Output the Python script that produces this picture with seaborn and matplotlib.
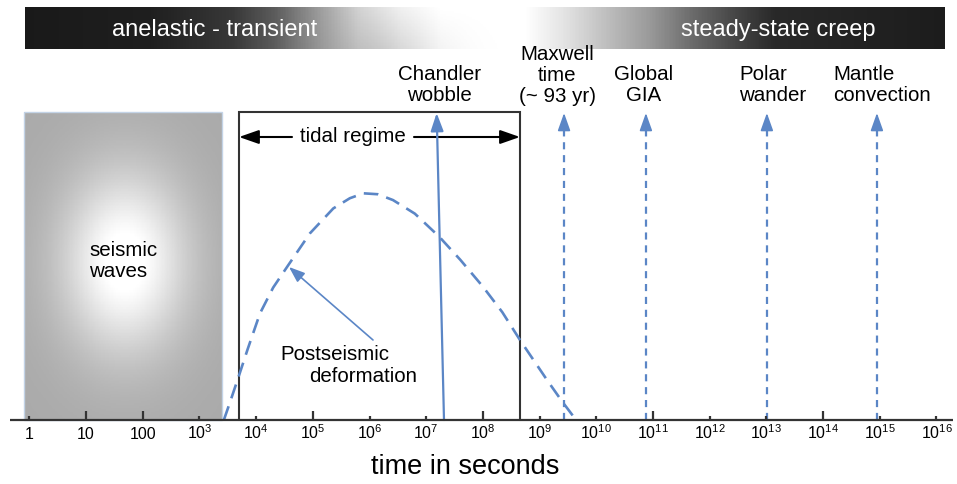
import numpy as np
import matplotlib
matplotlib.use("Agg")
import matplotlib.pyplot as plt
import seaborn as sns
import pandas as pd

# ---------------- data ----------------
tick_exponents = list(range(0, 17))
tick_labels = ["1", "10", "100"] + [r"$\mathregular{10^{%d}}$" % k for k in range(3, 17)]
tall_tick_exponents = [1, 2, 5, 8, 11, 14]

seismic_range_s = [0.82, 2.5e3]        # seconds
tidal_range_s = [5.0e3, 4.5e8]         # seconds

curve_t = [2.7e3, 3.5e3, 4.9e3, 7.1e3, 1.17e4, 2.0e4, 3.7e4, 8.9e4, 2.3e5, 4.5e5,
           7.8e5, 1.4e6, 2.6e6, 6.3e6, 1.7e7, 4.0e7, 1.0e8, 2.2e8, 4.5e8, 1.35e9,
           2.5e9, 4.4e9]
curve_h = [0.0, 0.06, 0.14, 0.23, 0.346, 0.43, 0.503, 0.606, 0.687, 0.72,
           0.736, 0.733, 0.714, 0.67, 0.595, 0.52, 0.433, 0.35, 0.26, 0.13,
           0.06, 0.0]

chandler_base_s = 2.06e7
chandler_tip_s = 1.53e7

process_names = ["Maxwell\ntime\n(~ 93 yr)", "Global\nGIA", "Polar\nwander", "Mantle\nconvection"]
process_t = [2.7e9, 7.5e10, 1.02e13, 8.9e14]

regime_names = ["anelastic - transient", "steady-state creep"]

# ---------------- style ----------------
sns.set_theme(style="white")
plt.rcParams["font.family"] = ["Liberation Sans", "DejaVu Sans"]
plt.rcParams["text.color"] = "black"
plt.rcParams["mathtext.fontset"] = "custom"
plt.rcParams["mathtext.rm"] = "Liberation Sans"
plt.rcParams["mathtext.it"] = "Liberation Sans:italic"

BLUE = "#5b86c6"
DARK = "#333333"
FS = 14.8

# pixel -> data helpers (layout only)
X0, DEC = 29.3, 56.7
Y0, UNIT = 420.0, 308.0
def px(x):
    return 10 ** ((x - X0) / DEC)
def py(y):
    return (Y0 - y) / UNIT

fig = plt.figure(figsize=(9.57, 4.84), dpi=100)
ax = fig.add_axes([0, 0, 1, 1])
ax.set_xscale("log")
ax.set_xlim(px(0), px(957))
ax.set_ylim(py(484), py(0))
ax.axis("off")

# ---------------- top regime bar ----------------
ex = np.linspace(-0.076, 16.15, 600)
xe = 10 ** ex
ye = np.linspace(py(49), py(7), 30)
pix = X0 + DEC * (0.5 * (ex[:-1] + ex[1:]))
prof_x = [25, 150, 233, 275, 321, 358, 400, 440, 525, 567, 608, 650, 692, 733, 775, 945]
prof_v = [0.10, 0.12, 0.22, 0.36, 0.62, 0.82, 0.94, 1.0, 1.0, 0.88, 0.74, 0.6, 0.42, 0.28, 0.16, 0.11]
bx = np.interp(pix, prof_x, prof_v)
yc = 0.5 * (ye[:-1] + ye[1:])
yfrac = (yc - ye[0]) / (ye[-1] - ye[0])  # 0 bottom, 1 top
C = np.clip(bx[None, :] - 0.10 * (1 - yfrac[:, None]) * np.exp(-((pix[None, :] - 390) / 60.0) ** 2), 0, 1)
ax.pcolormesh(xe, ye, C, cmap="gray", vmin=0, vmax=1, shading="flat", zorder=1)
ax.text(px(215), py(30), regime_names[0], color="white", fontsize=17, ha="center", va="center", zorder=3)
ax.text(px(778), py(30), regime_names[1], color="white", fontsize=17, ha="center", va="center", zorder=3)

# ---------------- seismic waves box ----------------
sx = np.logspace(np.log10(seismic_range_s[0]), np.log10(seismic_range_s[1]), 160)
sy = np.linspace(0, 1.0, 200)
spx = X0 + DEC * np.log10(0.5 * (sx[:-1] * 1.0 + sx[1:]))
spy = Y0 - UNIT * 0.5 * (sy[:-1] + sy[1:])
r2 = ((spx[None, :] - 125) / 62.0) ** 2 + ((spy[:, None] - 262) / 90.0) ** 2
G = 0.665 + 0.335 * np.clip(1.1 * np.exp(-r2), 0, 1)
ax.pcolormesh(sx, sy, G, cmap="gray", vmin=0, vmax=1, shading="flat", zorder=1)
ax.add_patch(plt.Rectangle((seismic_range_s[0], 0), seismic_range_s[1] - seismic_range_s[0], 1.0,
                           fill=False, ec="#c3d3e6", lw=1.0, zorder=2))
ax.text(px(89), py(277), "seismic\nwaves", fontsize=FS, ha="left", va="baseline",
        linespacing=1.12, zorder=3)

# ---------------- tidal regime box ----------------
l, r = tidal_range_s
ax.plot([l, l, r, r], [0, 1, 1, 0], color=DARK, lw=1.5, zorder=4, solid_joinstyle="miter")
ax.text(px(352.5), py(137), "tidal regime", fontsize=FS, ha="center", va="center", zorder=5)
ax.annotate("", xy=(l, py(137)), xytext=(px(292), py(137)),
            arrowprops=dict(arrowstyle="-|>,head_length=1.0,head_width=0.35", color="black",
                            lw=1.5, shrinkA=0, shrinkB=0), zorder=5)
ax.annotate("", xy=(r, py(137)), xytext=(px(414), py(137)),
            arrowprops=dict(arrowstyle="-|>,head_length=1.0,head_width=0.35", color="black",
                            lw=1.5, shrinkA=0, shrinkB=0), zorder=5)

# ---------------- postseismic curve ----------------
df = pd.DataFrame({"t": curve_t, "h": curve_h})
sns.lineplot(data=df, x="t", y="h", ax=ax, color=BLUE, lw=1.9, sort=False,
             linestyle=(0, (5.5, 3.2)), zorder=6)
ax.text(px(335), py(360), "Postseismic", fontsize=FS, ha="center", va="baseline", zorder=6)
ax.text(px(363.5), py(381.5), "deformation", fontsize=FS, ha="center", va="baseline", zorder=6)
ax.annotate("", xy=(px(289), py(267)), xytext=(px(373), py(340)),
            arrowprops=dict(arrowstyle="-|>,head_length=0.8,head_width=0.3", color=BLUE,
                            lw=1.2, shrinkA=0, shrinkB=0), zorder=6)

# ---------------- Chandler wobble (solid arrow) ----------------
ax.annotate("", xy=(chandler_tip_s, py(113)), xytext=(chandler_base_s, 0),
            arrowprops=dict(arrowstyle="-|>,head_length=0.9,head_width=0.32", color=BLUE,
                            lw=1.6, shrinkA=0, shrinkB=0), zorder=6)
ax.text(px(439.5), py(101), "Chandler\nwobble", fontsize=FS, ha="center", va="baseline",
        linespacing=1.12, zorder=6)

# ---------------- dashed process arrows ----------------
label_pos = [(px(557.5), py(102), "center"), (px(643.5), py(101), "center"),
             (px(739), py(101), "left"), (px(833), py(101), "left")]
for name, t, (lx, ly, ha) in zip(process_names, process_t, label_pos):
    ax.plot([t, t], [0, py(124)], color=BLUE, lw=1.6, linestyle=(0, (3.2, 2.6)), zorder=6)
    ax.annotate("", xy=(t, py(113)), xytext=(t, py(125)),
                arrowprops=dict(arrowstyle="-|>,head_length=0.9,head_width=0.32", color=BLUE,
                                lw=1.2, shrinkA=0, shrinkB=0), zorder=6)
    ax.text(lx, ly, name, fontsize=FS, ha=ha, va="baseline", multialignment=ha,
            linespacing=1.12, zorder=6)

# ---------------- time axis ----------------
ax.plot([px(10), px(953)], [0, 0], color=DARK, lw=1.6, zorder=7, solid_capstyle="butt")
for k, lab in zip(tick_exponents, tick_labels):
    tt = 10.0 ** k
    hgt = py(411) if k in tall_tick_exponents else py(416)
    ax.plot([tt, tt], [0, hgt], color=DARK, lw=1.6, zorder=7, solid_capstyle="butt")
    ax.text(tt, py(439), lab, fontsize=11.5, ha="center", va="baseline", zorder=7)
ax.text(px(465), py(474), "time in seconds", fontsize=19.5, ha="center", va="baseline", zorder=7)

fig.savefig("out.png", dpi=100)
